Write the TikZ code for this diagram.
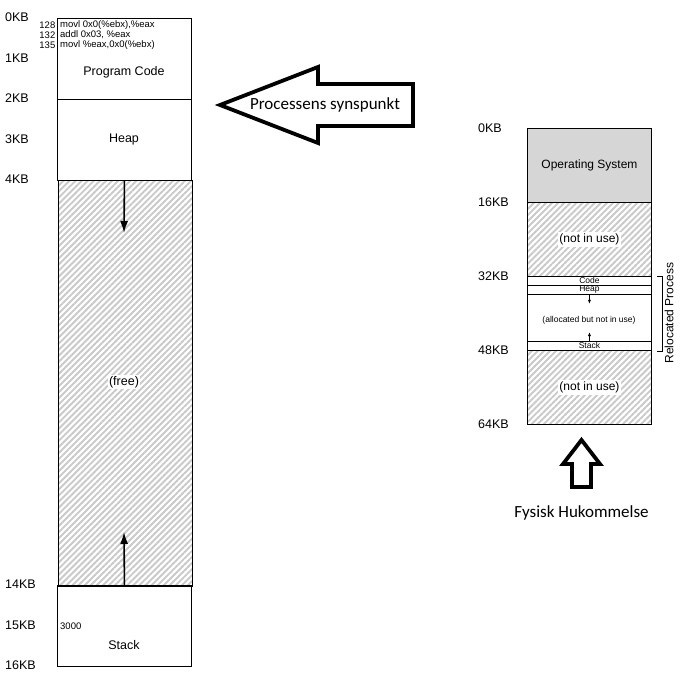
\documentclass[tikz,border=0pt]{standalone}
\usepackage{fontspec}
\setmainfont{Liberation Sans}
\newfontfamily\calibri{Carlito}
\usetikzlibrary{positioning,patterns.meta,arrows.meta}

\begin{document}
\begin{tikzpicture}[x=1pt,y=-1pt,
                seg/.style={draw,line width=0.9pt,inner sep=0pt,anchor=north west},
                unused/.style={seg,pattern={Lines[angle=45,distance=4.3pt,line width=1.9pt]},pattern color=black!21},
                kb/.style={anchor=west,inner sep=0pt,font=\fontsize{12.5}{12.5}\selectfont},
                big/.style={inner sep=0pt,font=\fontsize{12.5}{12.5}\selectfont},
                mid/.style={inner sep=0pt,font=\fontsize{12}{12}\selectfont},
                tiny/.style={inner sep=0pt,font=\fontsize{8.5}{8.5}\selectfont},
                asm/.style={inner sep=0pt,font=\fontsize{9.5}{9.5}\selectfont},
                blank/.style={fill=white,inner sep=1.5pt},
                growth/.style={-{Latex[length=12pt,width=8pt]},line width=1.6pt},
                growthsmall/.style={-{Latex[length=4pt,width=3pt]},line width=0.7pt},
                fat/.style={draw,line width=3.8pt,line join=miter,fill=white},
                say/.style={inner sep=0pt,font=\calibri\fontsize{17}{17}\selectfont}]
                \useasboundingbox (0,0) rectangle (696,676);
                % process address space
                \node[seg,minimum width=134pt,minimum height=81pt] (code) at (57,18){};
                \node[seg,minimum width=134pt,minimum height=81pt] (heap) at (57,99){};
                \node[unused,minimum width=134pt,minimum height=405pt] (free) at (57,180){};
                \node[seg,minimum width=134pt,minimum height=81pt] (stack) at (57,585){};
                \node[big] at (124,72){Program Code};
                \node[big] at (124,139){Heap};
                \node[big,blank] at (124,382){(free)};
                \node[big] at (124,645){Stack};
                \node[asm,anchor=west] (ins1) at (60,25){movl 0x0(\%ebx),\%eax};
                \node[asm,anchor=west] (ins2) at (60,35){addl 0x03, \%eax};
                \node[asm,anchor=west] (ins3) at (60,45){movl \%eax,0x0(\%ebx)};
                \node[asm,anchor=east] at (55.5,25){128};
                \node[asm,anchor=east] at (55.5,35){132};
                \node[asm,anchor=east] at (55.5,45){135};
                \node[asm,anchor=west] at (60,626){3000};
                \foreach \k/\y in {0/17,1/58,2/98,3/139,4/179,14/584,15/625,16/665}
                    \node[kb] at (5,\y){\k KB};
                \coordinate (heapend) at (124,233);
                \coordinate (stackend) at (124,532);
                \draw[growth] (heap.south) -- (heapend);
                \draw[growth] (stack.north) -- (stackend);
                % physical memory
                \node[seg,fill=black!16,minimum width=124pt,minimum height=74pt] (os) at (527,128){};
                \node[unused,minimum width=124pt,minimum height=74pt] (gap1) at (527,202){};
                \node[seg,minimum width=124pt,minimum height=9pt] (rcode) at (527,276){};
                \node[seg,minimum width=124pt,minimum height=9pt] (rheap) at (527,285){};
                \node[seg,minimum width=124pt,minimum height=47pt] (alloc) at (527,294){};
                \node[seg,minimum width=124pt,minimum height=9pt] (rstack) at (527,341){};
                \node[unused,minimum width=124pt,minimum height=74pt] (gap2) at (527,350){};
                \node[mid] at (os.center){Operating System};
                \node[mid,blank] at (gap1.center){(not in use)};
                \node[mid,blank] at (gap2.center){(not in use)};
                \node[tiny] at (rcode.center){Code};
                \node[tiny] at (rheap.center){Heap};
                \node[tiny] at (rstack.center){Stack};
                \node[tiny] at (589,320){(allocated but not in use)};
                \draw[growthsmall] (rheap.south) -- ++(0,9);
                \draw[growthsmall] (rstack.north) -- ++(0,-9);
                \foreach \k/\y in {0/128,16/202,32/276,48/350,64/424}
                    \node[kb] at (478,\y){\k KB};
                \draw[line width=0.7pt] ([xshift=5pt]rcode.north east) -- ++(5,0) |- ([xshift=5pt]rstack.south east);
                \node[mid,rotate=90] (reloc) at (669,313){Relocated Process};
                % arrows with captions
                \draw[fat] (220,105) -- (318,67) -- (318,84) -- (413,84) -- (413,126)
                    -- (318,126) -- (318,143) -- cycle;
                \node[say] (view) at (325,105){Processens synspunkt};
                \draw[fat] (581.5,440) -- (600,464) -- (591,464) -- (591,487) -- (572,487)
                    -- (572,464) -- (563,464) -- cycle;
                \node[say] (phys) at (581.5,513){Fysisk Hukommelse};
            \end{tikzpicture}
\end{document}
